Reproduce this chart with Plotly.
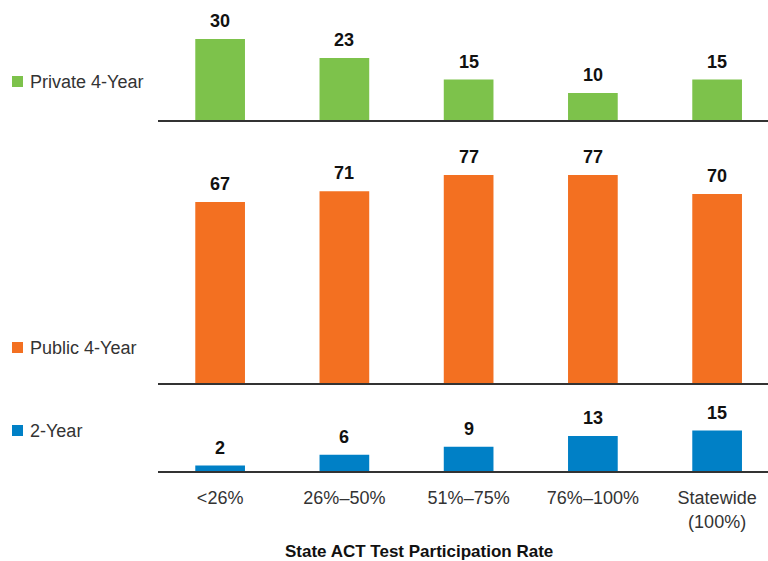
import plotly.graph_objects as go

categories = ["<26%", "26%–50%", "51%–75%", "76%–100%", "Statewide<br>(100%)"]
private_4yr = [30, 23, 15, 10, 15]
public_4yr = [67, 71, 77, 77, 70]
two_year = [2, 6, 9, 13, 15]
series_names = ["Private 4-Year", "Public 4-Year", "2-Year"]
x_title = "State ACT Test Participation Rate"

GREEN = "#7DC24B"
ORANGE = "#F37021"
BLUE = "#0080C6"

W, H = 768, 561
ML, MB, MT = 158, 90, 0
PH = H - MB - MT  # 471
PW = W - ML
S = 2.7  # px per unit

def py(pix):
    return (PH - pix) / PH

def px(pix):
    return (pix - ML) / PW

idx = list(range(len(categories)))

fig = go.Figure()
fig.add_trace(go.Bar(x=idx, y=two_year, marker_color=BLUE, width=0.4, xaxis="x", yaxis="y", marker_line_width=0))
fig.add_trace(go.Bar(x=idx, y=public_4yr, marker_color=ORANGE, width=0.4, xaxis="x2", yaxis="y2", marker_line_width=0))
fig.add_trace(go.Bar(x=idx, y=private_4yr, marker_color=GREEN, width=0.4, xaxis="x3", yaxis="y3", marker_line_width=0))

xr = [-0.5, -0.5 + PW / 124.25]
line_kw = dict(showline=True, linecolor="#333333", linewidth=1.5, showgrid=False, zeroline=False, range=xr, fixedrange=True)

bottom_base, mid_base, top_base = 471, 383, 120
bottom_top, mid_top, top_top = 417, 145, 0

layout = dict(
    width=W, height=H,
    margin=dict(l=ML, r=0, t=MT, b=MB),
    paper_bgcolor="white", plot_bgcolor="white",
    showlegend=False,
    font=dict(family="Liberation Sans, Arial, sans-serif", color="#333333"),
    xaxis=dict(domain=[0, 1], anchor="y", tickvals=idx, ticktext=categories, ticks="",
               tickfont=dict(size=18, color="#333333"), ticklabelstandoff=10, **line_kw),
    xaxis2=dict(domain=[0, 1], anchor="y2", showticklabels=False, ticks="", **line_kw),
    xaxis3=dict(domain=[0, 1], anchor="y3", showticklabels=False, ticks="", **line_kw),
    yaxis=dict(domain=[py(bottom_base), py(bottom_top)], range=[0, (bottom_base - bottom_top) / S], visible=False, fixedrange=True),
    yaxis2=dict(domain=[py(mid_base), py(mid_top)], range=[0, (mid_base - mid_top) / S], visible=False, fixedrange=True),
    yaxis3=dict(domain=[py(top_base), 1], range=[0, (top_base - top_top) / S], visible=False, fixedrange=True),
)
fig.update_layout(**layout)

annotations = []
for yref, xref, vals in [("y", "x", two_year), ("y2", "x2", public_4yr), ("y3", "x3", private_4yr)]:
    for i, v in zip(idx, vals):
        annotations.append(dict(x=i, y=v, xref=xref, yref=yref, text=f"<b>{v}</b>", showarrow=False,
                                yanchor="bottom", yshift=6, font=dict(size=18, color="#111111")))

annotations.append(dict(x=px(419), y=py(551), xref="paper", yref="paper", text=f"<b>{x_title}</b>",
                        showarrow=False, xanchor="center", yanchor="middle", font=dict(size=17, color="#111111")))

legend_y = [82, 348, 431]
legend_col = [GREEN, ORANGE, BLUE]
shapes = []
for name, ypix, col in zip(series_names, legend_y, legend_col):
    annotations.append(dict(x=px(28), y=py(ypix), xref="paper", yref="paper", text=name, showarrow=False,
                            xanchor="left", yanchor="middle", font=dict(size=18, color="#333333")))
    shapes.append(dict(type="rect", xref="paper", yref="paper", x0=px(12), x1=px(23), y0=py(ypix + 5), y1=py(ypix - 6),
                       fillcolor=col, line=dict(width=0)))

fig.update_layout(annotations=annotations, shapes=shapes)
fig.write_html("out.html", config={"displayModeBar": False},
               post_script="document.body.style.margin='0';document.body.style.overflow='hidden';")
